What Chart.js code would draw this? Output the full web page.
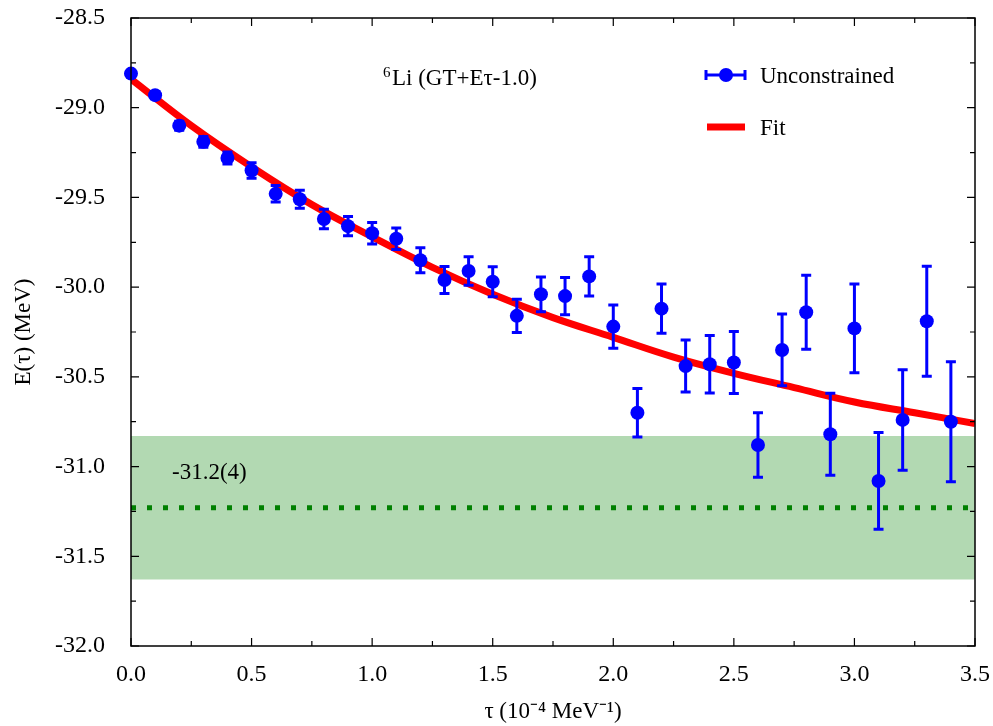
<!DOCTYPE html>
<html>
<head>
<meta charset="utf-8">
<script src="https://cdn.jsdelivr.net/npm/chart.js@4.4.0/dist/chart.umd.min.js"></script>
<style>
  html, body { margin: 0; padding: 0; background: #fff; }
  #wrap { width: 993px; height: 726px; }
</style>
</head>
<body>
<div id="wrap"><canvas id="chart" width="993" height="726"></canvas></div>
<script>
// imaginary-time points (10^-4 MeV^-1) and energies
const tau = [0.0, 0.1, 0.2, 0.3, 0.4, 0.5, 0.6, 0.7, 0.8, 0.9,
             1.0, 1.1, 1.2, 1.3, 1.4, 1.5, 1.6, 1.7, 1.8, 1.9,
             2.0, 2.1, 2.2, 2.3, 2.4, 2.5, 2.6, 2.7, 2.8, 2.9,
             3.0, 3.1, 3.2, 3.3, 3.4]
const energy = [-28.81, -28.93, -29.10, -29.19, -29.28, -29.35, -29.48, -29.51, -29.62, -29.66,
                -29.70, -29.73, -29.85, -29.96, -29.91, -29.97, -30.16, -30.04, -30.05, -29.94,
                -30.22, -30.70, -30.12, -30.44, -30.43, -30.42, -30.88, -30.35, -30.14, -30.82,
                -30.23, -31.08, -30.74, -30.19, -30.75]
const errors = [0.015, 0.02, 0.025, 0.03, 0.033, 0.043, 0.046, 0.05, 0.054, 0.054,
                0.06, 0.06, 0.07, 0.075, 0.08, 0.084, 0.093, 0.097, 0.104, 0.11,
                0.12, 0.135, 0.137, 0.145, 0.16, 0.173, 0.18, 0.2, 0.206, 0.228,
                0.247, 0.27, 0.28, 0.307, 0.334]

// fit curve
const fitTau = [0.0, 0.25, 0.5, 0.75, 1.0, 1.25, 1.5, 1.75, 2.0, 2.25, 2.5, 2.75, 3.0, 3.25, 3.5]
const fitE = [-28.84, -29.10, -29.33, -29.54, -29.72, -29.89, -30.04, -30.17, -30.28, -30.39,
              -30.48, -30.56, -30.64, -30.70, -30.76]

// extrapolated value and its band
const extrap = -31.23
const bandHigh = -30.83
const bandLow = -31.63

const xTicks = [0, 0.5, 1, 1.5, 2, 2.5, 3, 3.5]
const yTicks = [-32, -31.5, -31, -30.5, -30, -29.5, -29, -28.5]

const FONT = "'Liberation Serif', 'Times New Roman', serif"

const points = tau.map((t, i) => ({x: t, y: energy[i]}))
const fitLine = fitTau.map((t, i) => ({x: t, y: fitE[i]}))

const errorBars = {
    id: 'errorBars',
    beforeDatasetDraw(chart, args) {
        if (args.index !== 0) return
        const ctx = chart.ctx
        const xs = chart.scales.x, ys = chart.scales.y
        ctx.save()
        ctx.strokeStyle = '#0000ff'
        ctx.lineWidth = 3
        for (let i = 0; i < tau.length; i++) {
            const px = xs.getPixelForValue(tau[i])
            const top = ys.getPixelForValue(energy[i] + errors[i])
            const bot = ys.getPixelForValue(energy[i] - errors[i])
            ctx.beginPath()
            ctx.moveTo(px, top); ctx.lineTo(px, bot)
            ctx.moveTo(px - 5, top); ctx.lineTo(px + 5, top)
            ctx.moveTo(px - 5, bot); ctx.lineTo(px + 5, bot)
            ctx.stroke()
        }
        ctx.restore()
    }
}

const frame = {
    id: 'frame',
    afterDraw(chart) {
        const ctx = chart.ctx
        const a = chart.chartArea
        const xs = chart.scales.x, ys = chart.scales.y
        ctx.save()
        ctx.strokeStyle = '#000'
        ctx.lineWidth = 1.5
        ctx.strokeRect(a.left, a.top, a.right - a.left, a.bottom - a.top)
        ctx.lineWidth = 1.2
        ctx.beginPath()
        for (let v = 0; v <= 3.5001; v += 0.25) {
            const px = xs.getPixelForValue(v)
            const len = Math.abs(v * 2 - Math.round(v * 2)) < 1e-6 ? 8 : 5
            ctx.moveTo(px, a.bottom); ctx.lineTo(px, a.bottom - len)
            ctx.moveTo(px, a.top); ctx.lineTo(px, a.top + len)
        }
        for (let v = -32; v <= -28.4999; v += 0.25) {
            const py = ys.getPixelForValue(v)
            const len = Math.abs(v * 2 - Math.round(v * 2)) < 1e-6 ? 8 : 5
            ctx.moveTo(a.left, py); ctx.lineTo(a.left + len, py)
            ctx.moveTo(a.right, py); ctx.lineTo(a.right - len, py)
        }
        ctx.stroke()

        // annotations
        ctx.fillStyle = '#000'
        ctx.textBaseline = 'alphabetic'
        ctx.font = "23px " + FONT
        ctx.fillText('-31.2(4)', xs.getPixelForValue(0.17), ys.getPixelForValue(-31.07))
        ctx.font = "15px " + FONT
        ctx.fillText('6', 383, 77)
        ctx.font = "23px " + FONT
        ctx.fillText('Li (GT+E\u03c4-1.0)', 392, 85)

        // legend
        ctx.strokeStyle = '#0000ff'
        ctx.lineWidth = 3
        ctx.beginPath()
        ctx.moveTo(706, 75); ctx.lineTo(745, 75)
        ctx.moveTo(706, 70); ctx.lineTo(706, 80)
        ctx.moveTo(745, 70); ctx.lineTo(745, 80)
        ctx.stroke()
        ctx.fillStyle = '#0000ff'
        ctx.beginPath()
        ctx.arc(726, 75, 7, 0, Math.PI * 2)
        ctx.fill()
        ctx.strokeStyle = '#ff0000'
        ctx.lineWidth = 7
        ctx.beginPath()
        ctx.moveTo(707, 127); ctx.lineTo(745, 127)
        ctx.stroke()
        ctx.fillStyle = '#000'
        ctx.font = "23px " + FONT
        ctx.fillText('Unconstrained', 760, 83)
        ctx.fillText('Fit', 760, 135)
        ctx.restore()
    }
}

new Chart(document.getElementById('chart'), {
    type: 'scatter',
    data: {
        datasets: [
            {
                label: 'Unconstrained',
                data: points,
                pointRadius: 7,
                pointHoverRadius: 7,
                pointBackgroundColor: '#0000ff',
                pointBorderWidth: 0,
                showLine: false,
                clip: false
            },
            {
                label: 'Fit',
                data: fitLine,
                showLine: true,
                borderColor: '#ff0000',
                borderWidth: 7,
                pointRadius: 0,
                tension: 0.4,
                fill: false
            },
            {
                label: 'extrap',
                data: [{x: 0, y: extrap}, {x: 3.5, y: extrap}],
                showLine: true,
                borderColor: '#008000',
                borderWidth: 5,
                borderDash: [5, 11],
                borderCapStyle: 'butt',
                pointRadius: 0,
                fill: false
            },
            {
                label: 'bandHigh',
                data: [{x: 0, y: bandHigh}, {x: 3.5, y: bandHigh}],
                showLine: true,
                borderWidth: 0,
                borderColor: 'rgba(0,0,0,0)',
                backgroundColor: 'rgba(0,128,0,0.3)',
                pointRadius: 0,
                fill: '+1'
            },
            {
                label: 'bandLow',
                data: [{x: 0, y: bandLow}, {x: 3.5, y: bandLow}],
                showLine: true,
                borderWidth: 0,
                borderColor: 'rgba(0,0,0,0)',
                pointRadius: 0,
                fill: false
            }
        ]
    },
    options: {
        responsive: false,
        animation: false,
        layout: { padding: { top: 18, right: 18, left: 0, bottom: 0 } },
        plugins: {
            legend: { display: false },
            tooltip: { enabled: false }
        },
        scales: {
            x: {
                type: 'linear',
                min: 0, max: 3.5,
                afterBuildTicks: s => { s.ticks = xTicks.map(v => ({value: v})) },
                afterFit: s => { s.height = 80; s.paddingLeft = 0; s.paddingRight = 0 },
                grid: { display: false },
                border: { display: false },
                ticks: {
                    padding: 6,
                    color: '#000',
                    font: { family: FONT, size: 24 },
                    callback: v => v.toFixed(1)
                },
                title: {
                    display: true,
                    text: '\u03c4 (10\u207b\u2074 MeV\u207b\u00b9)',
                    color: '#000',
                    font: { family: FONT, size: 23 },
                    padding: { top: 4, bottom: 0 }
                }
            },
            y: {
                type: 'linear',
                min: -32, max: -28.5,
                afterBuildTicks: s => { s.ticks = yTicks.map(v => ({value: v})) },
                afterFit: s => { s.width = 131; s.paddingTop = 0; s.paddingBottom = 0 },
                grid: { display: false },
                border: { display: false },
                ticks: {
                    padding: 18,
                    color: '#000',
                    font: { family: FONT, size: 24 },
                    callback: v => v.toFixed(1)
                },
                title: {
                    display: true,
                    text: 'E(\u03c4) (MeV)',
                    color: '#000',
                    font: { family: FONT, size: 23 },
                    padding: { top: 10, bottom: 0 }
                }
            }
        }
    },
    plugins: [errorBars, frame]
})
</script>
</body>
</html>
